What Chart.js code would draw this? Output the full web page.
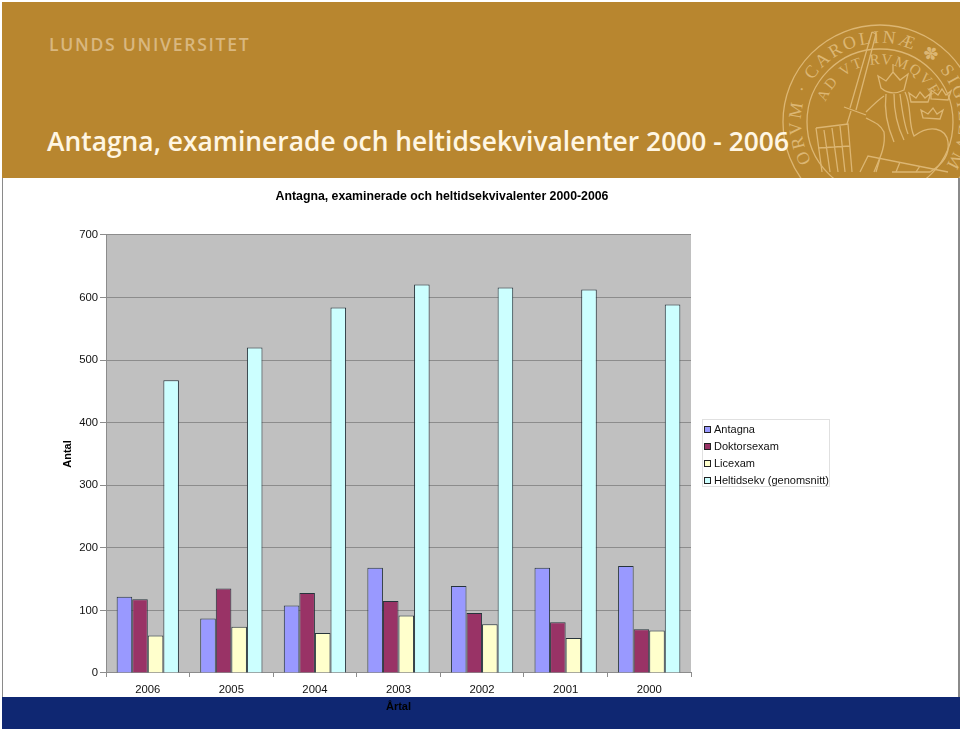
<!DOCTYPE html>
<html lang="sv">
<head>
<meta charset="UTF-8">
<title>Antagna, examinerade och heltidsekvivalenter</title>
<script src="https://cdn.jsdelivr.net/npm/chart.js"></script>
<style>
    html, body { margin: 0; padding: 0; background: #fff; }
    #page { position: relative; width: 960px; height: 732px; overflow: hidden; background: #fff; }
    #header { position: absolute; left: 2px; top: 2px; width: 958px; height: 176px; background: #b8862f; overflow: hidden; }
    #brand { position: absolute; left: 47px; top: 30px; font: 600 17.6px "Open Sans", sans-serif; letter-spacing: 1.7px; color: #d9b77f; white-space: nowrap; }
    #headline { position: absolute; left: 45px; top: 121px; font: 600 26.4px "Open Sans", sans-serif; color: #fff6e3; white-space: nowrap; }
    #seal { position: absolute; left: 0; top: 0; }
    #edgeL { position: absolute; left: 2px; top: 178px; width: 1px; height: 519px; background: #8a8a8a; }
    #edgeR { position: absolute; left: 958px; top: 178px; width: 2px; height: 519px; background: #8a8a8a; }
    #footer { position: absolute; left: 2px; top: 697px; width: 958px; height: 32px; background: #0f2772; }
    #chartBox { position: absolute; left: 0; top: 178px; width: 884px; height: 554px; }
    #legend { position: absolute; left: 702px; top: 419px; width: 128px; height: 68px; box-sizing: border-box; border: 1px solid #e0e0e0; background: #fff; padding-top: 1px; font: 11px "Liberation Sans", Arial, sans-serif; color: #111; }
    #legend div { height: 17px; line-height: 17px; white-space: nowrap; padding-left: 11px; position: relative; }
    #legend i { position: absolute; left: 1px; top: 5px; width: 5px; height: 5px; border: 1px solid #222; }
</style>
</head>
<body>
<div id="page">
    <div id="header">
        <svg id="seal" width="958" height="176" viewBox="2 2 958 176" fill="none" stroke="#dcb673" stroke-width="1.3">
            <defs>
                <path id="outerRing" d="M 811.6 161.5 A 79 79 0 1 1 948.4 161.5"></path>
                <path id="innerRing" d="M 825.5 102.2 A 58 58 0 0 1 934.5 102.2"></path>
            </defs>
            <circle cx="880" cy="122" r="97"></circle>
            <circle cx="880" cy="122" r="73"></circle>
            <text font-family="Liberation Serif, serif" font-size="18" fill="#dcb673" stroke="none" letter-spacing="2.5"><textPath href="#outerRing">ORVM · CAROLINÆ ✽ SIGILLVM</textPath></text>
            <text font-family="Liberation Serif, serif" font-size="15" fill="#dcb673" stroke="none" letter-spacing="2"><textPath href="#innerRing">AD VT RVMQVE</textPath></text>
            <!-- svard -->
            <path d="M872 32 L850 108 M876 34 L856 110 M872 32 L876 34 M844 107 L866 115 M851 111 L847 124"></path>
            <!-- lejon -->
            <path d="M866 112 C874 104 878 100 884 96 M866 118 C874 122 880 124 884 132 C886 146 880 158 874 172 M905 92 C912 106 908 124 914 136 C930 124 946 128 948 142 C950 156 940 166 930 172 L892 172 M886 94 C884 110 888 128 894 142 M894 94 C894 110 898 128 904 140 M900 94 C902 110 904 124 908 134"></path>
            <path d="M881 88 L878 76 L886 81 L893 72 L900 80 L908 74 L904 90 C896 94 888 94 881 88 Z M893 72 L893 64"></path>
            <!-- kronor -->
            <path d="M911 102 L909 93 L916 98 L920 92 L925 98 L931 93 L928 102 Z"></path>
            <path d="M931 99 L931 90 L938 95 L942 89 L946 95 L951 91 L948 100 Z"></path>
            <path d="M923 118 L921 110 L928 114 L933 108 L937 114 L943 110 L940 119 Z"></path>
            <!-- bok och rutor -->
            <path d="M816 128 L848 124 L852 172 M816 128 L822 172 M824 130 L830 172 M832 128 L838 172 M840 126 L845 172 M818 148 L850 146"></path>
            <path d="M860 172 L868 156 L948 172 M880 158 L876 172 M900 162 L896 172 M920 166 L916 172"></path>
        </svg>
        <div id="brand">LUNDS UNIVERSITET</div>
        <div id="headline">Antagna, examinerade och heltidsekvivalenter 2000 - 2006</div>
    </div>
    <div id="edgeL"></div>
    <div id="edgeR"></div>
    <div id="footer"></div>
    <div id="chartBox"><canvas id="chart" width="884" height="554"></canvas></div>
    <div id="legend"></div>
</div>

<script>
    const years = ['2006', '2005', '2004', '2003', '2002', '2001', '2000'];
    const antagna = [122, 87, 108, 168, 139, 168, 171];
    const doktorsexam = [118, 135, 128, 115, 96, 81, 70];
    const licexam = [60, 74, 64, 92, 78, 56, 68];
    const heltidsekv = [468, 520, 584, 621, 616, 613, 589];

    const series = [
        { label: 'Antagna', data: antagna, color: '#9999ff' },
        { label: 'Doktorsexam', data: doktorsexam, color: '#993366' },
        { label: 'Licexam', data: licexam, color: '#ffffcc' },
        { label: 'Heltidsekv (genomsnitt)', data: heltidsekv, color: '#ccffff' }
    ];

    const font = { family: '"Liberation Sans", Arial, sans-serif', size: 11.3 };
    const boldFont = { family: font.family, size: 11, weight: 'bold' };

    // gra platta bakom staplarna
    const plotBackground = {
        id: 'plotBackground',
        beforeDraw(chart) {
            const a = chart.chartArea;
            chart.ctx.save();
            chart.ctx.fillStyle = '#c0c0c0';
            chart.ctx.fillRect(a.left, a.top, a.right - a.left, a.bottom - a.top);
            chart.ctx.restore();
        }
    };

    new Chart(document.getElementById('chart'), {
        type: 'bar',
        data: {
            labels: years,
            datasets: series.map(s => ({
                label: s.label,
                data: s.data,
                yAxisID: 'y',
                backgroundColor: s.color,
                borderColor: '#26343c',
                borderWidth: 1,
                categoryPercentage: 0.745,
                barPercentage: 1
            }))
        },
        plugins: [plotBackground],
        options: {
            responsive: false,
            animation: false,
            layout: { autoPadding: false, padding: 0 },
            plugins: {
                legend: { display: false },
                tooltip: { enabled: false },
                title: {
                    display: true,
                    text: 'Antagna, examinerade och heltidsekvivalenter 2000-2006',
                    color: '#000',
                    font: { family: font.family, size: 12.3, weight: 'bold', lineHeight: 1.2 },
                    padding: { top: 11, bottom: 31.2 }
                }
            },
            scales: {
                x: {
                    afterFit(scale) { scale.height = 59; },
                    border: { color: '#8c8c8c', width: 1 },
                    grid: { drawOnChartArea: false, drawTicks: true, tickLength: 4, color: '#8c8c8c' },
                    ticks: { color: '#111', font: font, padding: 6, maxRotation: 0 },
                    title: { display: true, text: 'Årtal', color: '#000', font: boldFont, padding: { top: 0, bottom: 18.4 } }
                },
                y: {
                    min: 0,
                    max: 700,
                    afterFit(scale) { scale.width = 106; },
                    border: { color: '#8c8c8c', width: 1 },
                    grid: { color: '#8c8c8c', tickLength: 6, lineWidth: 1 },
                    ticks: { stepSize: 100, color: '#111', font: font, padding: 2 },
                    title: { display: true, text: 'Antal', color: '#000', font: boldFont, padding: { top: 61, bottom: 0 } }
                },
                // tom axel som haller plats for legenden till hoger
                legendSpace: {
                    position: 'right',
                    afterFit(scale) { scale.width = 193; },
                    border: { display: false },
                    grid: { display: false },
                    ticks: { display: false }
                }
            }
        }
    });

    // legenden ligger vid sidan av diagrammet
    document.getElementById('legend').innerHTML = series
        .map(s => `<div><i style="background:${s.color}"></i>${s.label}</div>`)
        .join('');
</script>
</body>
</html>
